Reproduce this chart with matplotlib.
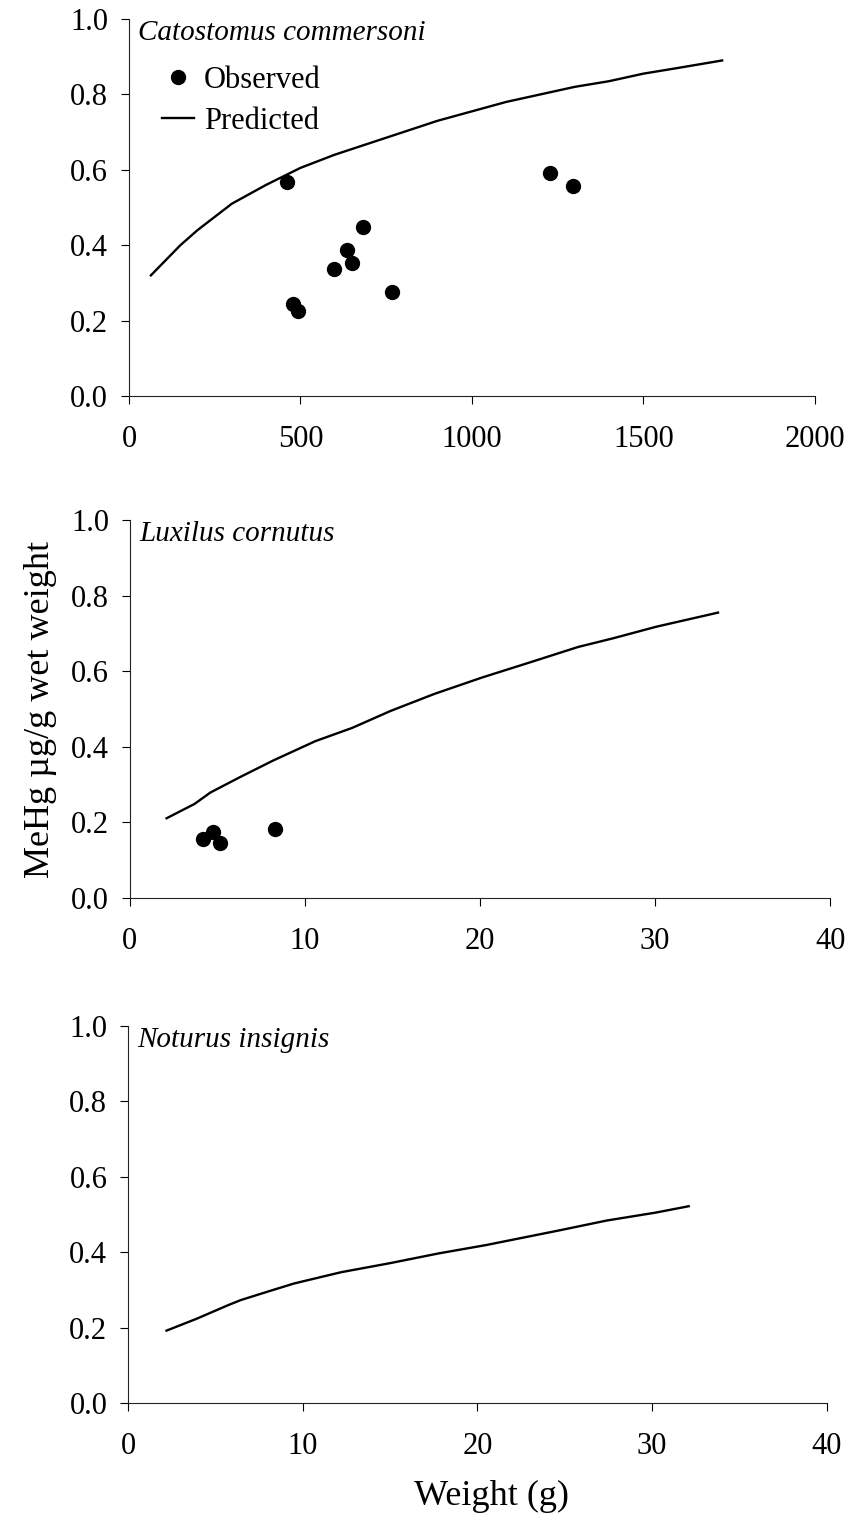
import matplotlib
matplotlib.use('Agg')
import matplotlib.pyplot as plt

plt.rcParams['font.family'] = ['Liberation Serif', 'DejaVu Serif']

# Catostomus commersoni (weight g, MeHg ug/g)
cc_pred_w = [64, 150, 200, 300, 400, 500, 600, 700, 800, 900, 1000, 1100, 1200, 1300, 1400, 1500, 1600, 1730]
cc_pred_hg = [0.32, 0.40, 0.44, 0.51, 0.56, 0.605, 0.64, 0.67, 0.70, 0.73, 0.755, 0.78, 0.80, 0.82, 0.835, 0.855, 0.87, 0.89]
cc_obs_w = [461, 477, 493, 597, 637, 651, 684, 766, 1228, 1296]
cc_obs_hg = [0.567, 0.243, 0.225, 0.337, 0.387, 0.353, 0.447, 0.276, 0.592, 0.558]

# Luxilus cornutus
lc_pred_w = [2.1, 3.7, 4.6, 6.3, 8.2, 10.6, 12.7, 14.9, 17.4, 20.1, 22.9, 25.6, 27.6, 30.1, 33.6]
lc_pred_hg = [0.211, 0.249, 0.279, 0.32, 0.364, 0.415, 0.45, 0.495, 0.54, 0.583, 0.624, 0.664, 0.687, 0.718, 0.755]
lc_obs_w = [4.2, 4.75, 5.15, 8.3]
lc_obs_hg = [0.157, 0.174, 0.145, 0.183]

# Noturus insignis
ni_pred_w = [2.2, 3.95, 5.75, 6.45, 8.1, 9.5, 12.2, 15.0, 17.8, 20.5, 23.3, 24.7, 27.4, 30.2, 32.1]
ni_pred_hg = [0.192, 0.224, 0.26, 0.273, 0.297, 0.317, 0.347, 0.371, 0.397, 0.419, 0.445, 0.458, 0.484, 0.505, 0.522]

yticks = [0.0, 0.2, 0.4, 0.6, 0.8, 1.0]
FS = 22

fig = plt.figure(figsize=(8.54, 15.33), dpi=100)

def setup(ax, xmax, xstep, title):
    ax.set_xlim(0, xmax)
    ax.set_ylim(0, 1.0)
    ax.set_xticks(range(0, xmax + 1, xstep))
    ax.set_yticks(yticks)
    ax.set_yticklabels(['%.1f' % v for v in yticks])
    for s in ['top', 'right']:
        ax.spines[s].set_visible(False)
    for s in ['left', 'bottom']:
        ax.spines[s].set_linewidth(0.8)
        ax.spines[s].set_color('#222222')
    ax.tick_params(axis='y', direction='out', length=6, width=0.8, pad=9, labelsize=FS)
    ax.tick_params(axis='x', direction='out', length=6, width=0.8, pad=15, labelsize=FS)
    ax.text(0.013, 0.998, title, transform=ax.transAxes, style='italic',
            fontsize=21, ha='left', va='top')

# top panel
ax1 = fig.add_axes([0.151, 0.7417, 0.803, 0.2459])
ax1.plot(cc_obs_w, cc_obs_hg, 'o', color='black', ms=10, label='Observed')
ax1.plot(cc_pred_w, cc_pred_hg, '-', color='black', lw=1.7, label='Predicted')
setup(ax1, 2000, 500, 'Catostomus commersoni')
ax1.legend(loc='upper left', bbox_to_anchor=(0.048, 0.876), frameon=False, fontsize=FS,
           borderpad=0, borderaxespad=0, handlelength=1.05, handletextpad=0.33,
           labelspacing=0.4, numpoints=1)

# middle panel
ax2 = fig.add_axes([0.152, 0.4142, 0.820, 0.2466])
ax2.plot(lc_obs_w, lc_obs_hg, 'o', color='black', ms=10)
ax2.plot(lc_pred_w, lc_pred_hg, '-', color='black', lw=1.7)
setup(ax2, 40, 10, 'Luxilus cornutus')
ax2.set_ylabel('MeHg µg/g wet weight', fontsize=26, labelpad=10)

# bottom panel
ax3 = fig.add_axes([0.150, 0.0848, 0.818, 0.2459])
ax3.plot(ni_pred_w, ni_pred_hg, '-', color='black', lw=1.7)
setup(ax3, 40, 10, 'Noturus insignis')
ax3.set_xlabel('Weight (g)', fontsize=26)
ax3.xaxis.set_label_coords(0.52, -0.205)

fig.savefig('out.png', dpi=100)
